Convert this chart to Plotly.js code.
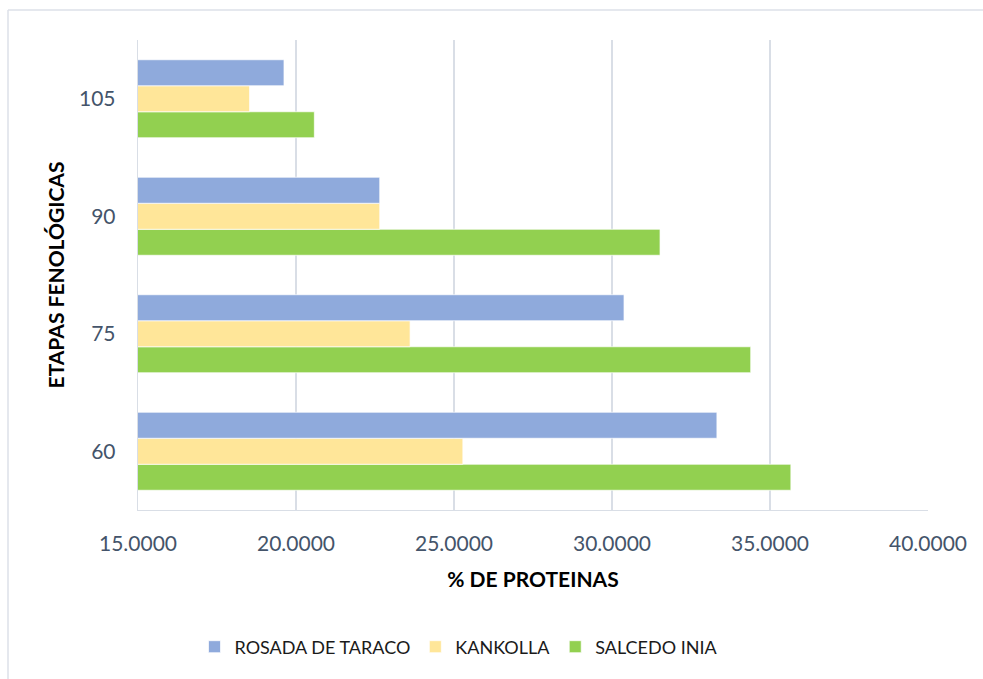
<!DOCTYPE html>
<html>
<head>
<meta charset="utf-8">
<script src="https://cdn.plot.ly/plotly-3.0.1.min.js"></script>
<style>html,body{margin:0;padding:0;background:#fff;}#chart{width:983px;height:679px;}</style>
</head>
<body>
<div id="chart"></div>
<script>
const categories = ['60', '75', '90', '105'];
const rosada = [33.32, 30.38, 22.65, 19.62];
const kankolla = [25.28, 23.61, 22.65, 18.53];
const salcedo = [35.66, 34.39, 31.52, 20.58];
const seriesNames = ['ROSADA DE TARACO', 'KANKOLLA', 'SALCEDO INIA'];
const xTicks = [15, 20, 25, 30, 35, 40];
const xTickLabels = ['15.0000', '20.0000', '25.0000', '30.0000', '35.0000', '40.0000'];

const colors = {rosada: '#8faadc', kankolla: '#ffe699', salcedo: '#92d050'};
const FONT = 'Lato, "Open Sans", sans-serif';
const edge = {color: 'rgba(255,255,255,0.7)', width: 1};

const traces = [
  {type: 'bar', orientation: 'h', name: seriesNames[2], y: categories, x: salcedo,
   marker: {color: colors.salcedo, line: edge}},
  {type: 'bar', orientation: 'h', name: seriesNames[1], y: categories, x: kankolla,
   marker: {color: colors.kankolla, line: edge}},
  {type: 'bar', orientation: 'h', name: seriesNames[0], y: categories, x: rosada,
   marker: {color: colors.rosada, line: edge}}
];

// plot area in pixels: x 138..928, y 40..510
const px = v => (v - 138) / 790;
const py = v => (510 - v) / 470;

const layout = {
  width: 983, height: 679,
  margin: {l: 138, r: 55, t: 40, b: 169},
  paper_bgcolor: '#ffffff', plot_bgcolor: '#ffffff',
  font: {family: FONT, color: '#44546a'},
  barmode: 'group', bargap: 0.336, bargroupgap: 0,
  showlegend: true,
  legend: {orientation: 'h', traceorder: 'reversed', x: px(459), xanchor: 'center',
           y: py(647), yanchor: 'middle', font: {family: FONT, size: 18, color: '#1a1a1a'},
           itemwidth: 30},
  xaxis: {
    range: [15, 40], tickmode: 'array', tickvals: xTicks, ticktext: xTickLabels,
    showgrid: true, gridcolor: '#d9dee6', gridwidth: 1.3,
    showline: true, linecolor: '#d9dee6', linewidth: 1.3, zeroline: false,
    ticks: '', ticklabelstandoff: 14,
    tickfont: {family: FONT, size: 21, color: '#44546a'},
    title: {text: '% DE PROTEINAS', standoff: 18, font: {family: FONT, size: 21, color: '#000000', weight: 'bold'}},
    fixedrange: true
  },
  yaxis: {
    type: 'category', categoryorder: 'array', categoryarray: categories,
    showgrid: false, showline: true, linecolor: '#d9dee6', linewidth: 1.3,
    ticks: '', ticklabelstandoff: 17,
    tickfont: {family: FONT, size: 21, color: '#44546a'},
    title: {text: 'ETAPAS FENOLÓGICAS', standoff: 8, font: {family: FONT, size: 21, color: '#000000', weight: 'bold'}},
    fixedrange: true
  },
  shapes: [
    {type: 'line', xref: 'paper', yref: 'paper', x0: px(8), x1: px(990), y0: py(10), y1: py(10),
     line: {color: '#dde1e8', width: 1.5}, layer: 'below'},
    {type: 'line', xref: 'paper', yref: 'paper', x0: px(8), x1: px(8), y0: py(10), y1: py(690),
     line: {color: '#dde1e8', width: 1.5}, layer: 'below'}
  ]
};

Plotly.newPlot('chart', traces, layout, {displayModeBar: false, staticPlot: true});
</script>
</body>
</html>
